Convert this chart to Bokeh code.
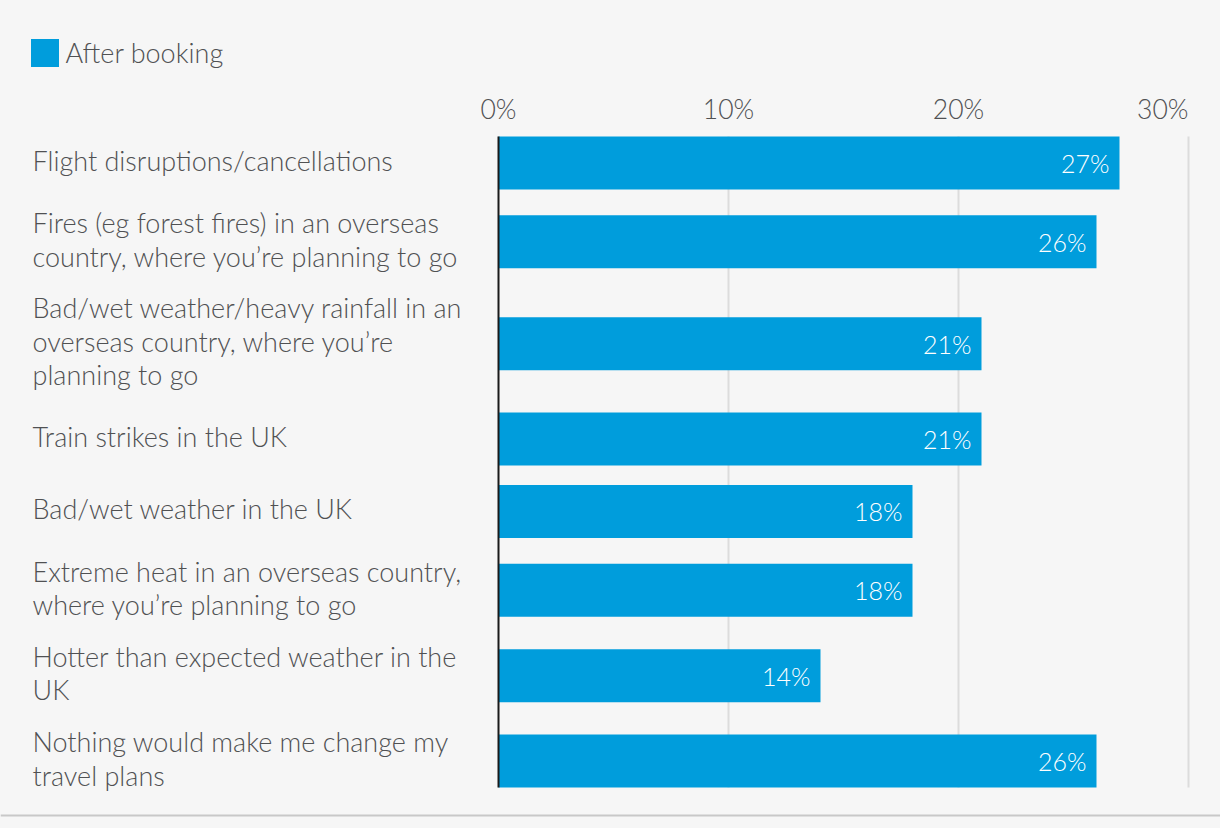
from bokeh.plotting import figure
from bokeh.models import Range1d, Span, Legend, LegendItem
from bokeh.core.properties import value
from bokeh.embed import file_html
from bokeh.resources import INLINE

# ---- data ----
categories = [
    "Flight disruptions/cancellations",
    "Fires (eg forest fires) in an overseas\ncountry, where you\u2019re planning to go",
    "Bad/wet weather/heavy rainfall in an\noverseas country, where you\u2019re\nplanning to go",
    "Train strikes in the UK",
    "Bad/wet weather in the UK",
    "Extreme heat in an overseas country,\nwhere you\u2019re planning to go",
    "Hotter than expected weather in the\nUK",
    "Nothing would make me change my\ntravel plans",
]
after_booking = [27, 26, 21, 21, 18, 18, 14, 26]
tick_values = [0, 10, 20, 30]
tick_labels = ["0%", "10%", "20%", "30%"]
series_name = "After booking"

# ---- layout constants (pixels) ----
W, H = 1220, 828
ZERO_PX = 498          # x pixel of 0%
PX_PER_PCT = 23
TOP = 136              # top of first bar
BAR_H = 53
LINE_H = 33
GAP = 19.36
FONT = "'Lato Light', Lato"
BAR_COLOR = "#009ddc"
TEXT_COLOR = "#505153"

# row positions derived from number of label lines
lines = [c.count("\n") + 1 for c in categories]
heights = [max(BAR_H, LINE_H * n) for n in lines]
centers = [TOP + BAR_H / 2]
for i in range(1, len(categories)):
    centers.append(centers[-1] + (heights[i - 1] + heights[i]) / 2 + GAP)
bottom = centers[-1] + BAR_H / 2

p = figure(width=W, height=H, output_backend="svg", toolbar_location=None,
           x_range=Range1d(-ZERO_PX / PX_PER_PCT, (W - ZERO_PX) / PX_PER_PCT),
           y_range=Range1d(H, 0),
           x_axis_location=None, y_axis_location=None,
           min_border=0, outline_line_color=None,
           background_fill_color="#f6f6f6", border_fill_color="#f6f6f6")
p.grid.visible = False

# gridlines
p.segment(x0=tick_values[1:], x1=tick_values[1:], y0=[TOP] * 3, y1=[bottom] * 3,
          line_color="#dcdcdc", line_width=2)

bars = p.hbar(y=centers, left=0, right=after_booking, height=BAR_H,
              fill_color=BAR_COLOR, line_color=None)

# zero line
p.segment(x0=[0], x1=[0], y0=[TOP], y1=[bottom], line_color="#1a1a1a", line_width=2)

# tick labels on top
p.text(x=tick_values[:-1], y=[TOP - 28] * 3, text=tick_labels[:-1],
       text_align="center", text_baseline="middle", text_font=value(FONT),
       text_font_size="26.5px", text_color=TEXT_COLOR)
p.text(x=tick_values[-1:], y=[TOP - 28], text=tick_labels[-1:],
       text_align="right", text_baseline="middle", text_font=value(FONT),
       text_font_size="26.5px", text_color=TEXT_COLOR)

# category labels
label_x = (32 - ZERO_PX) / PX_PER_PCT
p.text(x=[label_x] * len(categories), y=[c - 2.5 for c in centers], text=categories,
       text_align="left", text_baseline="middle", text_font=value(FONT),
       text_font_size="27px", text_line_height=1.011, text_color=TEXT_COLOR)

# value labels
p.text(x=after_booking, y=centers, text=[f"{v}%" for v in after_booking],
       x_offset=-10, text_align="right", text_baseline="middle",
       text_font=value(FONT), text_font_size="25px", text_color="white")

# bottom rule
p.add_layout(Span(location=815, dimension="width", line_color="#c8c8c8", line_width=2))

legend = Legend(items=[LegendItem(label=series_name, renderers=[bars])],
                location=(26.5, H - 69.5), orientation="horizontal",
                glyph_width=35, glyph_height=35, label_height=35,
                label_standoff=4, padding=0, margin=0, spacing=0,
                border_line_color=None, background_fill_alpha=0,
                label_text_font=FONT, label_text_font_size="27px",
                label_text_color=TEXT_COLOR)
p.add_layout(legend)

html = file_html(p, INLINE)
html = html.replace("<head>", "<head><style>html,body{margin:0;padding:0;background:#f6f6f6;}</style>", 1)
open("out.html", "w").write(html)
